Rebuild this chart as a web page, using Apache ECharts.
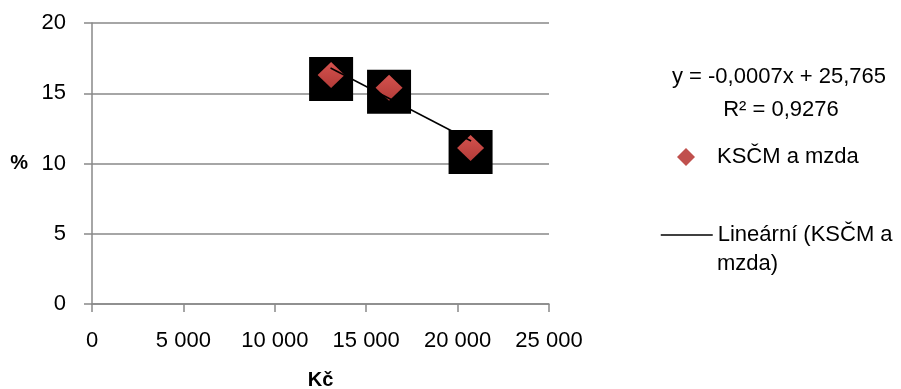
<!DOCTYPE html>
<html>
<head>
<meta charset="utf-8">
<script src="https://cdn.jsdelivr.net/npm/echarts@6/dist/echarts.min.js"></script>
<style>html,body{margin:0;padding:0;background:#fff}#c{width:901px;height:389px}</style>
</head>
<body>
<div id="c"></div>
<script>
var seriesName = 'KSČM a mzda';
var trendName = 'Lineární (KSČM a mzda)';
var trendLegendLines = ['Lineární (KSČM a', 'mzda)'];
var wageX = [13080, 16250, 20710];
var voteY = [16.3, 15.4, 11.1];
var trendX = [13050, 20740];
var trendY = [16.8, 11.6];
var yTicks = [0, 5, 10, 15, 20];
var xTicks = [0, 5000, 10000, 15000, 20000, 25000];
var equationText = 'y = -0,0007x + 25,765';
var r2Text = 'R² = 0,9276';

var FONT = 'Liberation Sans';
var points = wageX.map(function (x, i) { return [x, voteY[i]]; });
var trend = trendX.map(function (x, i) { return [x, trendY[i]]; });
function fmt(v) { return String(v).replace(/\B(?=(\d{3})+(?!\d))/g, ' '); }

var chart = echarts.init(document.getElementById('c'), null, {renderer: 'canvas'});
chart.setOption({
  animation: false,
  textStyle: {fontFamily: FONT, color: '#000'},
  grid: {left: 92, right: 352, top: 23, bottom: 85, containLabel: false, outerBoundsMode: 'none'},
  xAxis: {
    type: 'value', min: xTicks[0], max: xTicks[xTicks.length - 1], interval: 5000,
    name: 'Kč', nameLocation: 'middle', nameGap: 66,
    nameTextStyle: {fontFamily: FONT, fontSize: 20, fontWeight: 'bold', color: '#000'},
    axisLine: {show: true, lineStyle: {color: '#898989', width: 1.5}},
    axisTick: {show: true, length: 8, lineStyle: {color: '#898989', width: 1.5}},
    axisLabel: {margin: 26, fontSize: 22, color: '#000', fontFamily: FONT, formatter: fmt},
    splitLine: {show: false}
  },
  yAxis: {
    type: 'value', min: yTicks[0], max: yTicks[yTicks.length - 1], interval: 5,
    name: '%', nameLocation: 'middle', nameGap: 64, nameRotate: 0,
    nameTextStyle: {fontFamily: FONT, fontSize: 20, fontWeight: 'bold', color: '#000', padding: [6, 0, 0, 0]},
    axisLine: {show: true, lineStyle: {color: '#898989', width: 1.5}},
    axisTick: {show: true, length: 8, lineStyle: {color: '#898989', width: 1.5}},
    axisLabel: {margin: 26, fontSize: 22, color: '#000', fontFamily: FONT},
    splitLine: {show: true, lineStyle: {color: '#898989', width: 1.5}}
  },
  legend: [
    {
      data: [seriesName], orient: 'vertical', left: 677, top: 146, padding: 0,
      icon: 'diamond', itemWidth: 18, itemHeight: 18,
      itemStyle: {color: '#c0504d', opacity: 1},
      textStyle: {fontSize: 22, fontFamily: FONT, color: '#000', padding: [0, 0, 0, 17]},
      selectedMode: false
    },
    {
      data: [trendName], orient: 'vertical', left: 660, top: 224, padding: 0,
      itemWidth: 52, itemHeight: 18,
      itemStyle: {opacity: 0},
      lineStyle: {color: '#000', width: 1.5},
      formatter: function () { return trendLegendLines[0]; },
      textStyle: {fontSize: 22, fontFamily: FONT, color: '#000'},
      selectedMode: false
    }
  ],
  graphic: [
    {type: 'text', style: {text: equationText, x: 779, y: 77, align: 'center', verticalAlign: 'middle', font: '22px "' + FONT + '"', fill: '#000'}},
    {type: 'text', style: {text: r2Text, x: 781, y: 110, align: 'center', verticalAlign: 'middle', font: '22px "' + FONT + '"', fill: '#000'}},
    {type: 'text', style: {text: trendLegendLines[1], x: 717, y: 264, align: 'left', verticalAlign: 'middle', font: '22px "' + FONT + '"', fill: '#000'}}
  ],
  series: [
    {
      name: 'markerBack', type: 'scatter', data: points, symbol: 'rect', symbolSize: 44,
      symbolOffset: [0, 4], itemStyle: {color: '#000', opacity: 1}, z: 1, silent: true
    },
    {
      name: seriesName, type: 'scatter', data: points, symbol: 'diamond', symbolSize: [27, 26],
      itemStyle: {
        opacity: 1,
        color: new echarts.graphic.LinearGradient(0, 0, 0, 1, [
          {offset: 0, color: '#d4524e'}, {offset: 1, color: '#b33b38'}
        ])
      },
      z: 2
    },
    {
      name: trendName, type: 'line', data: trend, symbol: 'none', showSymbol: false,
      lineStyle: {color: '#000', width: 1.5}, itemStyle: {color: '#000'}, z: 3
    }
  ]
});
</script>
</body>
</html>
